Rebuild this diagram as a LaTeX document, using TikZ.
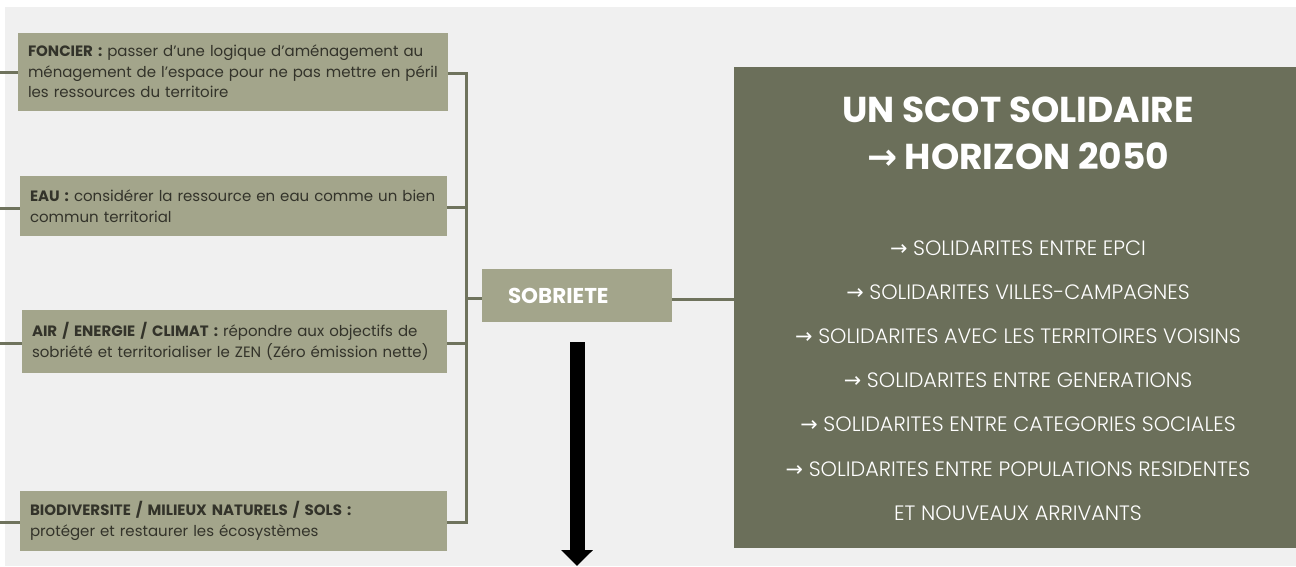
\documentclass[tikz,border=0pt]{standalone}
\usepackage{fontspec}
\setmainfont{Poppins}
\newfontfamily\itemfont{Poppins Light}
\newfontfamily\arrowfont{DejaVu Sans}
\usetikzlibrary{arrows.meta}
\definecolor{bg}{HTML}{F0F0F0}
\definecolor{boxlight}{HTML}{A3A58B}
\definecolor{boxdark}{HTML}{6B6F5A}
\definecolor{conncol}{HTML}{6F735D}
\definecolor{txtdark}{HTML}{33332A}
\tikzset{
  themebox/.style={fill=boxlight, draw=none, inner xsep=10pt, inner ysep=0pt, align=left,
    text=txtdark, font=\fontsize{15}{20.5}\selectfont},
  sobbox/.style={fill=boxlight, draw=none, inner xsep=26pt, inner ysep=0pt, align=left,
    text=white, font=\fontsize{21.5}{24}\selectfont\bfseries},
  mainbox/.style={fill=boxdark, draw=none, inner sep=0pt},
  titletext/.style={text=white, align=center, font=\fontsize{36}{47}\selectfont\bfseries, inner sep=0pt},
  itemtext/.style={text=white, align=center, font=\fontsize{20.8}{44.2}\selectfont\itemfont, inner sep=0pt},
  conn/.style={draw=conncol, line width=3pt},
  bigarrow/.style={draw=black, line width=15pt, -{Triangle[width=31pt,length=16pt]}}
}
\begin{document}
\begin{tikzpicture}[x=1pt,y=-1pt]
\fill[white] (0,0) rectangle (1296,566);
\fill[bg] (5,7) rectangle (1296,566);
\useasboundingbox (0,0) rectangle (1296,566);

% theme boxes
\node[themebox, minimum width=430pt, minimum height=78pt, text width=410pt] (foncier) at (233,71.5)
  {\textbf{FONCIER :} passer d'une logique d'aménagement au\\ménagement de l'espace pour ne pas mettre en péril\\les ressources du territoire};
\node[themebox, minimum width=427pt, minimum height=60pt, text width=407pt] (eau) at (233.5,206)
  {\textbf{EAU :} considérer la ressource en eau comme un bien\\commun territorial};
\node[themebox, minimum width=425pt, minimum height=63pt, text width=405pt] (air) at (234.5,341.5)
  {\textbf{AIR / ENERGIE / CLIMAT :} répondre aux objectifs de\\sobriété et territorialiser le ZEN (Zéro émission nette)};
\node[themebox, minimum width=427pt, minimum height=60pt, text width=407pt] (bio) at (233.5,521)
  {\textbf{BIODIVERSITE / MILIEUX NATURELS / SOLS :}\\protéger et restaurer les écosystèmes};

\node[sobbox, minimum width=190pt, minimum height=53pt, text width=138pt] (sob) at (577,295.5) {SOBRIETE};

\node[mainbox, minimum width=562pt, minimum height=481pt] (main) at (1015,307.5) {};
\node[titletext] (title) at (1018,133) {UN SCOT SOLIDAIRE\\{\arrowfont\bfseries →} HORIZON 2050};
\node[itemtext] (items) at (1018,380.5) {%
{\arrowfont →} SOLIDARITES ENTRE EPCI\\
{\arrowfont →} SOLIDARITES VILLES-CAMPAGNES\\
{\arrowfont →} SOLIDARITES AVEC LES TERRITOIRES VOISINS\\
{\arrowfont →} SOLIDARITES ENTRE GENERATIONS\\
{\arrowfont →} SOLIDARITES ENTRE CATEGORIES SOCIALES\\
{\arrowfont →} SOLIDARITES ENTRE POPULATIONS RESIDENTES\\
ET NOUVEAUX ARRIVANTS};

% bus coordinates
\coordinate (b1) at (466,73);
\coordinate (b2) at (466,207);
\coordinate (b3) at (466,343);
\coordinate (b4) at (466,522);
\coordinate (b0) at (466,298);
\coordinate (l1) at (0,72);
\coordinate (l2) at (0,208);
\coordinate (l3) at (0,343);
\coordinate (l4) at (0,522);

\draw[conn] (l1) -- (foncier.west |- l1);
\draw[conn] (l2) -- (eau.west |- l2);
\draw[conn] (l3) -- (air.west |- l3);
\draw[conn] (l4) -- (bio.west |- l4);
\draw[conn] (foncier.east |- b1) -- (b1) -- (b4) -- (bio.east |- b4);
\draw[conn] (eau.east |- b2) -- (b2);
\draw[conn] (air.east |- b3) -- (b3);
\draw[conn] (b0) -- (sob.west |- b0);
\draw[conn] (sob.east |- 0,299) -- (main.west |- 0,299);

% big arrow
\coordinate (a0) at (577,342);
\coordinate (a1) at (577,566);
\draw[bigarrow] (a0) -- (a1);
\end{tikzpicture}
\end{document}
